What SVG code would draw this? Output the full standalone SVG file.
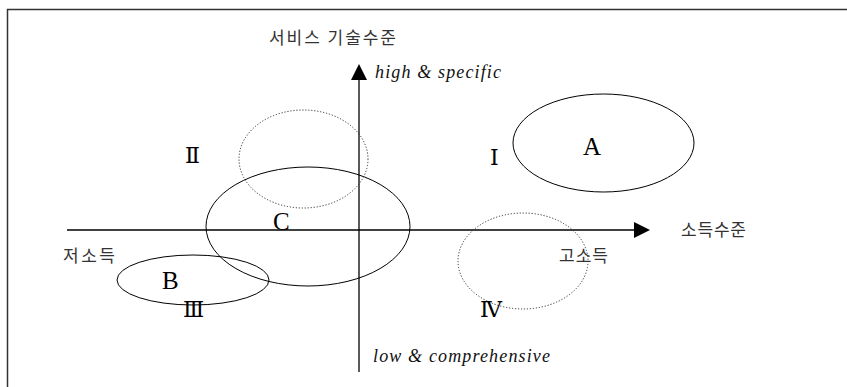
<svg xmlns="http://www.w3.org/2000/svg" width="847" height="387" viewBox="0 0 847 387">
<style>
.frame{stroke:#333;stroke-width:1.5;fill:none}
.axis{stroke:#000;stroke-width:1.3;fill:none}
.solid{stroke:#000;stroke-width:1;fill:none}
.dot{stroke:#333;stroke-width:1;fill:none;stroke-dasharray:1.2 1.8}
.ko{font-family:"Noto Sans CJK KR",sans-serif;font-size:17px;fill:#333}
.en{font-family:"Liberation Serif",serif;font-style:italic;font-size:18px;fill:#111}
.lbl{font-family:"Liberation Serif",serif;font-size:25px;fill:#000}
.num{font-family:"DejaVu Serif","Liberation Serif",serif;font-size:22px;fill:#000}
</style>
<defs>
<marker id="ah" markerWidth="16" markerHeight="16" refX="0" refY="8" orient="auto" markerUnits="userSpaceOnUse"><path d="M0,0 L16,8 L0,16 Z" fill="#000"/></marker>
</defs>
<g id="frame"><path class="frame" d="M7.5,387 V9.5 H847"/></g>
<g id="connectors">
<line class="axis" x1="67" y1="230" x2="634" y2="230" marker-end="url(#ah)"/>
<line class="axis" x1="359" y1="372" x2="359" y2="80" marker-end="url(#ah)"/>
</g>
<g id="ellipse-A"><ellipse class="solid" cx="603.5" cy="143" rx="90.5" ry="49"/><text class="lbl" x="583" y="155">A</text></g>
<g id="ellipse-B"><ellipse class="solid" cx="193" cy="280" rx="76" ry="25"/><text class="lbl" x="162" y="289">B</text></g>
<g id="ellipse-C"><ellipse class="solid" cx="308" cy="226.5" rx="102" ry="59.5"/><text class="lbl" x="273" y="230">C</text></g>
<g id="ellipse-II"><ellipse class="dot" cx="303.5" cy="159" rx="64.5" ry="49"/></g>
<g id="ellipse-IV"><ellipse class="dot" cx="523" cy="261" rx="65" ry="48"/></g>
<g id="quadrants">
<text class="num" x="490" y="165">Ⅰ</text>
<text class="num" x="185" y="163">Ⅱ</text>
<text class="num" x="183" y="317">Ⅲ</text>
<text class="num" x="480" y="317">Ⅳ</text>
</g>
<g id="labels">
<text class="ko" x="269" y="44" textLength="127">서비스 기술수준</text>
<text class="en" x="375" y="78" textLength="126">high &amp; specific</text>
<text class="ko" x="681" y="236" textLength="65">소득수준</text>
<text class="ko" x="63" y="262" textLength="52">저소득</text>
<text class="ko" x="559" y="262" textLength="49">고소득</text>
<text class="en" x="373" y="362" textLength="177">low &amp; comprehensive</text>
</g>
</svg>
